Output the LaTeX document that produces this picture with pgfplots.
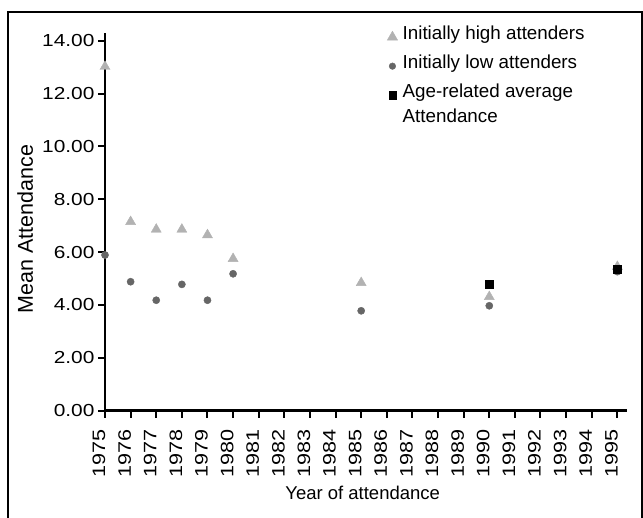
\documentclass[border=0pt]{standalone}
\usepackage{fontspec}
\setmainfont{Liberation Sans}
\newfontfamily\tickfont{Liberation Sans}[FakeStretch=1.2]
\usepackage{pgfplots}
\pgfplotsset{compat=1.18}
\definecolor{highc}{HTML}{B2B2B2}
\definecolor{lowc}{HTML}{666666}

\begin{document}
\begin{tikzpicture}
\useasboundingbox (0pt,0pt) rectangle (643pt,518pt);
\draw[line width=2pt] (7.5pt,-20pt) -- (7.5pt,506pt) -- (641.5pt,506pt) -- (641.5pt,-20pt);
\begin{axis}[at={(105pt,107.3pt)},anchor=south west,scale only axis,
  width=521.6pt,height=377.4pt,
  xmin=1975,xmax=1995.36,ymin=0,ymax=14.28,clip=false,
  axis lines=left,axis line style={line width=2.4pt,-},
  xtick={1975,...,1995},ytick={0,2,...,14},
  tick align=outside,major tick length=7pt,
  tick style={line width=2pt,black},
  /pgf/number format/assume math mode=true,
  yticklabel style={font=\tickfont\fontsize{17.4}{20}\selectfont,
    /pgf/number format/.cd,fixed,fixed zerofill,precision=2},
  xticklabel style={font=\tickfont\fontsize{18}{20}\selectfont,rotate=90,anchor=east,
    /pgf/number format/1000 sep={},xshift=-8pt,yshift=6pt},
  xlabel={Year of attendance},ylabel={Mean Attendance},
  xlabel style={font=\fontsize{18.5}{21}\selectfont,at={(axis description cs:0.494,-0.217)},anchor=center},
  ylabel style={font=\fontsize{21.5}{24}\selectfont,at={(axis description cs:-0.153,0.481)},anchor=center,rotate=0},
  legend style={draw=none,fill=none,at={(axis description cs:0.535,1.03)},anchor=north west,
    font=\fontsize{18.8}{22}\selectfont,row sep=9pt,
    /tikz/every odd column/.style={column sep=4pt},
    nodes={inner sep=1pt,text height=14pt,text depth=4pt}},
  legend cell align=left,
  legend image code/.code={\draw[#1] plot coordinates {(5pt,-3pt)};},
]
\addplot[only marks,mark=triangle*,mark size=5.8pt,color=highc,forget plot] coordinates {
(1975,13.02) (1976,7.15) (1977,6.86) (1978,6.86) (1979,6.65) (1980,5.75)
(1985,4.84) (1990,4.31) (1995,5.45)};
\addplot[only marks,mark=*,mark size=3.6pt,color=lowc,forget plot] coordinates {
(1975,5.89) (1976,4.88) (1977,4.18) (1978,4.78) (1979,4.18) (1980,5.18)
(1985,3.78) (1990,3.97) (1995,5.26)};
\addplot[only marks,mark=square*,mark size=4pt,color=black,forget plot] coordinates {
(1990,4.77) (1995,5.36)};
\addlegendimage{only marks,mark=triangle*,mark size=6pt,color=highc}
\addlegendentry{Initially high attenders}
\addlegendimage{only marks,mark=*,mark size=3.3pt,color=lowc}
\addlegendentry{Initially low attenders}
\addlegendimage{only marks,mark=square*,mark size=3.7pt,color=black}
\addlegendentry{Age-related average}
\addlegendimage{empty legend}
\addlegendentry{\raisebox{4pt}{Attendance}}
\end{axis}
\end{tikzpicture}
\end{document}
